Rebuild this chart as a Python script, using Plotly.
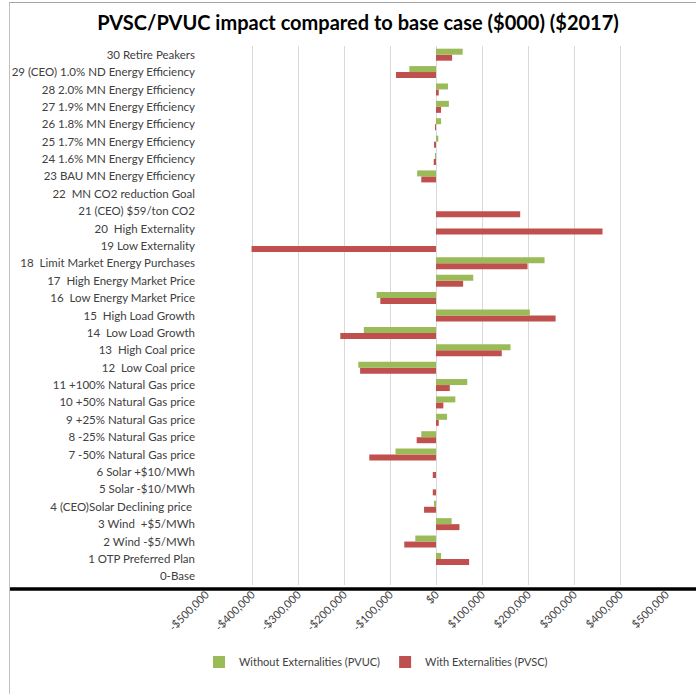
import plotly.graph_objects as go

categories = [
    "0-Base",
    "1 OTP Preferred Plan",
    "2 Wind -$5/MWh",
    "3 Wind  +$5/MWh",
    "4 (CEO)Solar Declining price ",
    "5 Solar -$10/MWh",
    "6 Solar +$10/MWh",
    "7 -50% Natural Gas price",
    "8 -25% Natural Gas price",
    "9 +25% Natural Gas price",
    "10 +50% Natural Gas price",
    "11 +100% Natural Gas price",
    "12  Low Coal price",
    "13  High Coal price",
    "14  Low Load Growth",
    "15  High Load Growth",
    "16  Low Energy Market Price",
    "17  High Energy Market Price",
    "18  Limit Market Energy Purchases",
    "19 Low Externality",
    "20  High Externality",
    "21 (CEO) $59/ton CO2",
    "22  MN CO2 reduction Goal",
    "23 BAU MN Energy Efficiency",
    "24 1.6% MN Energy Efficiency",
    "25 1.7% MN Energy Efficiency",
    "26 1.8% MN Energy Efficiency",
    "27 1.9% MN Energy Efficiency",
    "28 2.0% MN Energy Efficiency",
    "29 (CEO) 1.0% ND Energy Efficiency",
    "30 Retire Peakers",
]

# values in $ (read in thousands from the picture)
pvuc_k = [0, 11, -45, 34, -4, 0, 0, -88, -32, 24, 42, 68, -169, 162, -157, 204,
          -129, 81, 236, 0, 0, 0, 0, -41, -1, 5, 11, 28, 26, -58, 58]
pvsc_k = [0, 72, -69, 51, -26, -7, -7, -145, -42, 6, 16, 30, -165, 143, -208, 260,
          -121, 59, 199, -401, 362, 183, 0, -32, -5, -4, -2, 11, 6, -87, 35]
pvuc = [v * 1000 for v in pvuc_k]
pvsc = [v * 1000 for v in pvsc_k]

tick_vals = [-500000, -400000, -300000, -200000, -100000, 0,
             100000, 200000, 300000, 400000, 500000]
tick_text = ["-$500,000", "-$400,000", "-$300,000", "-$200,000", "-$100,000", "$0",
             "$100,000", "$200,000", "$300,000", "$400,000", "$500,000"]

GREEN = "#9BBB59"
RED = "#C0504D"

fig = go.Figure()
fig.add_trace(go.Bar(
    y=categories, x=pvsc, orientation="h", name="With Externalities (PVSC)",
    marker=dict(color=RED, line=dict(width=0)), legendrank=2,
))
fig.add_trace(go.Bar(
    y=categories, x=pvuc, orientation="h", name="Without Externalities (PVUC)",
    marker=dict(color=GREEN, line=dict(width=0)), legendrank=1,
))

W, H = 696, 694
L, R, T, B = 206, 30, 46, 109
pw = W - L - R
ph = H - T - B

def px_x(x):
    return (x - L) / pw

def px_y(y):
    return (H - B - y) / ph

fig.update_layout(
    width=W, height=H,
    margin=dict(l=L, r=R, t=T, b=B, pad=0),
    paper_bgcolor="white", plot_bgcolor="white",
    barmode="group", bargap=0.31, bargroupgap=0,
    font=dict(family="Lato, Carlito, Calibri, sans-serif", color="#404040"),
    title=dict(
        text="<b>PVSC/PVUC impact compared to base case ($000) ($2017)</b>",
        x=358 / W, xref="container", xanchor="center",
        y=1 - 23 / H, yref="container", yanchor="middle",
        font=dict(size=20, color="#000000", family="Lato, Carlito, Calibri, sans-serif"),
    ),
    xaxis=dict(
        range=[-500000, 500000], tickvals=tick_vals, ticktext=tick_text,
        tickangle=-45, tickfont=dict(size=11, color="#404040"),
        showgrid=True, gridcolor="#D9D9D9", gridwidth=1,
        zeroline=True, zerolinecolor="#D9D9D9", zerolinewidth=1,
        showline=False, ticks="", fixedrange=True,
    ),
    yaxis=dict(
        type="category", categoryorder="array", categoryarray=categories,
        tickfont=dict(size=11.5, color="#404040"),
        showgrid=False, zeroline=False, showline=False, ticks="",
        ticklabelstandoff=10, range=[-0.5, len(categories) - 0.5],
    ),
    legend=dict(
        orientation="h", x=px_x(376), xanchor="center",
        y=px_y(662), yanchor="middle",
        font=dict(size=11, color="#404040"),
        itemwidth=30, traceorder="normal",
    ),
    shapes=[
        dict(type="line", xref="paper", yref="paper",
             x0=px_x(9), x1=px_x(696), y0=px_y(589), y1=px_y(589),
             line=dict(color="#000000", width=3.5)),
        dict(type="line", xref="paper", yref="paper",
             x0=px_x(9), x1=px_x(696), y0=px_y(2.5), y1=px_y(2.5),
             line=dict(color="#A6A6A6", width=1)),
        dict(type="line", xref="paper", yref="paper",
             x0=px_x(9.5), x1=px_x(9.5), y0=px_y(2.5), y1=px_y(694),
             line=dict(color="#BFBFBF", width=1)),
    ],
)

fig.write_html("out.html")
